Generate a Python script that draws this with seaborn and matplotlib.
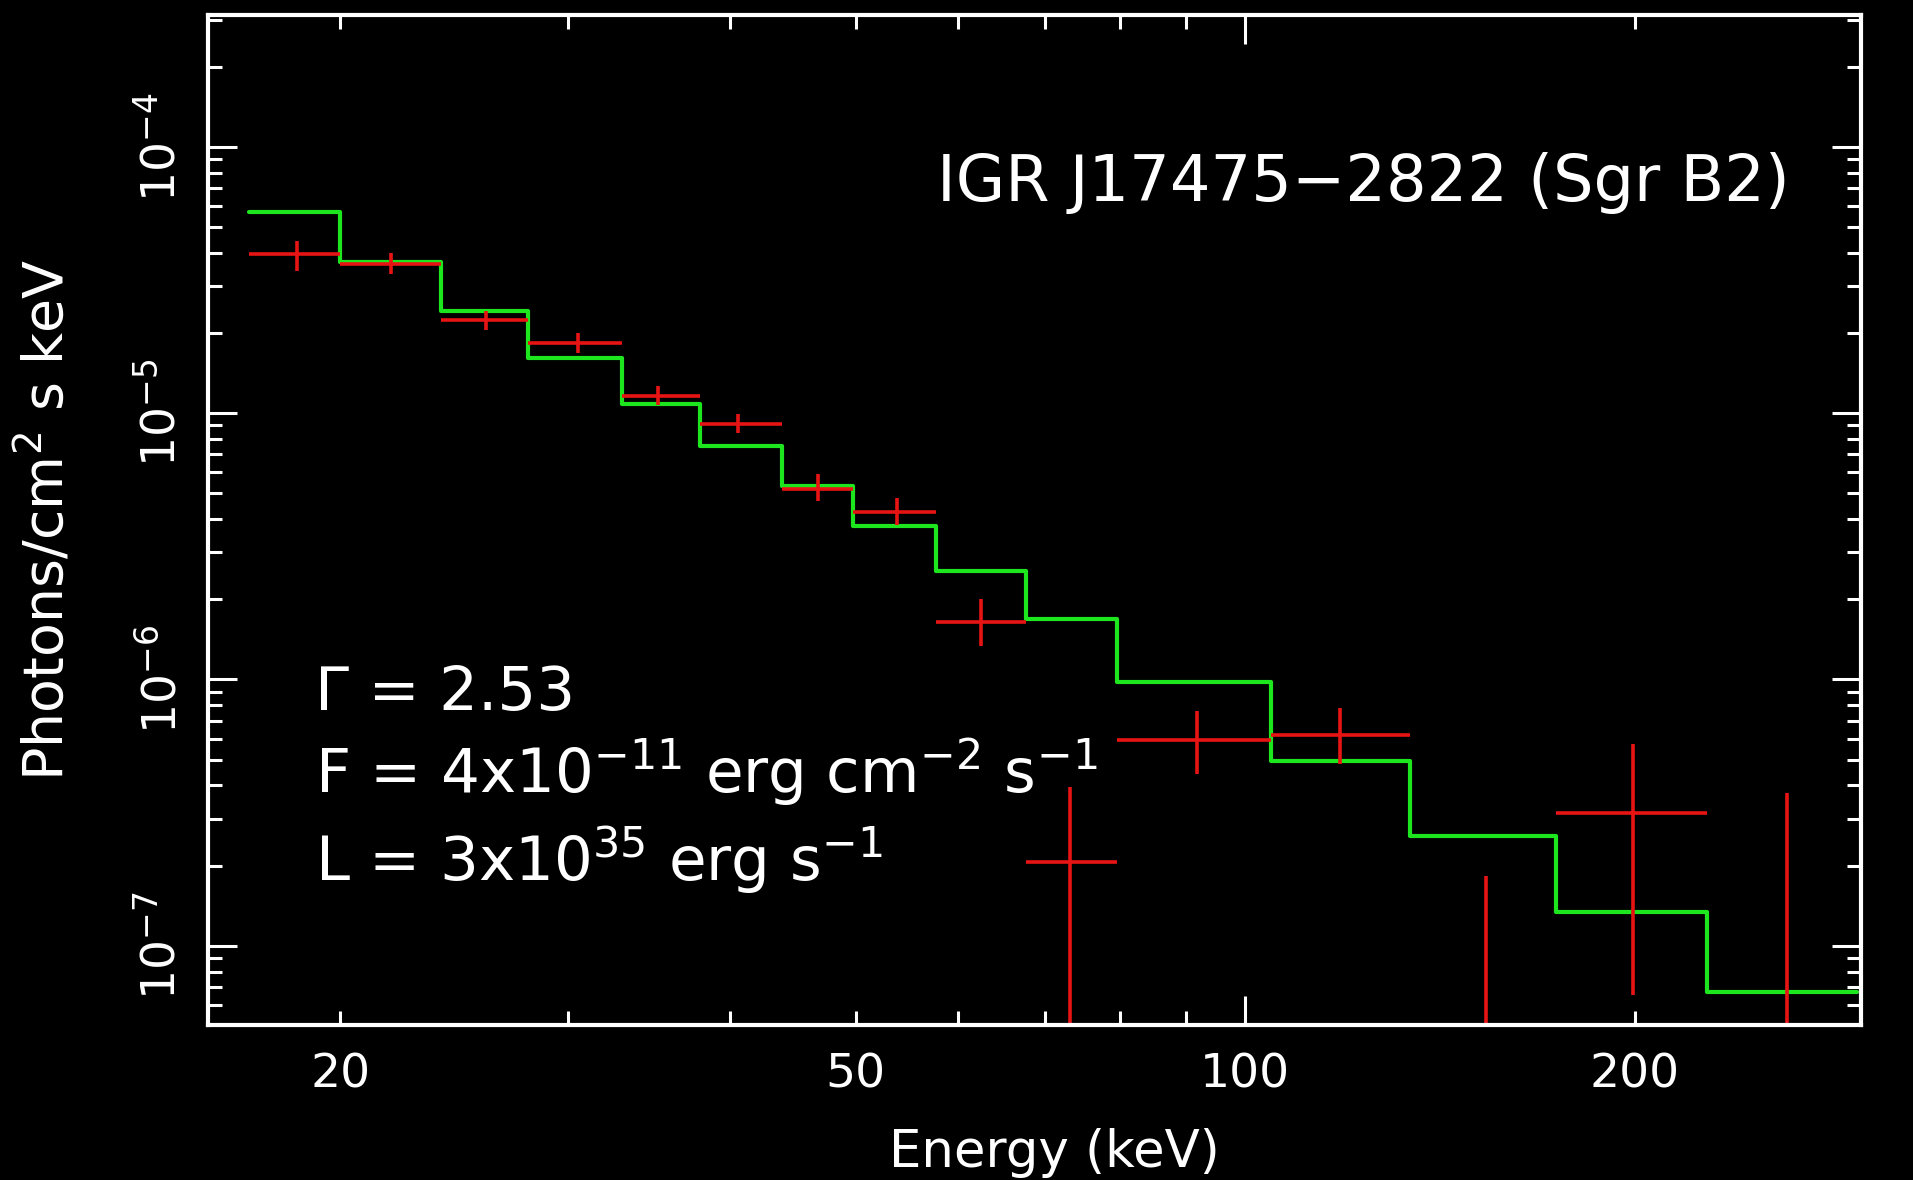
import numpy as np
import matplotlib
matplotlib.use('Agg')
import matplotlib.pyplot as plt
import seaborn as sns
from matplotlib.ticker import LogLocator, FuncFormatter

# Model (step) bin edges in keV and model flux per bin
model_edges = [17.0, 20.0, 23.9, 27.9, 33.0, 37.9, 43.9, 49.8, 57.7, 67.7,
               79.6, 104.6, 134.0, 173.7, 227.3, 297.0]
model_flux = [5.72e-5, 3.71e-5, 2.41e-5, 1.61e-5, 1.08e-5, 7.54e-6, 5.33e-6,
              3.76e-6, 2.55e-6, 1.69e-6, 9.75e-7, 4.96e-7, 2.58e-7, 1.34e-7, 6.7e-8]

# Measured spectrum: bin centre, flux and error range (same bins as the model)
data_energy = [18.5, 21.9, 25.9, 30.5, 35.2, 40.6, 46.8, 53.8, 62.5, 73.2,
               91.7, 118.4, 153.4, 199.5, 262.3]
data_flux = [3.95e-5, 3.63e-5, 2.24e-5, 1.83e-5, 1.163e-5, 9.12e-6, 5.21e-6,
             4.27e-6, 1.65e-6, 2.07e-7, 5.94e-7, 6.19e-7, 2.0e-8, 3.15e-7, 2.0e-8]
data_upper = [4.43e-5, 3.99e-5, 2.43e-5, 2.0e-5, 1.26e-5, 9.9e-6, 5.9e-6,
              4.8e-6, 2.0e-6, 3.94e-7, 7.6e-7, 7.8e-7, 1.82e-7, 5.7e-7, 3.73e-7]
data_lower = [3.41e-5, 3.33e-5, 2.05e-5, 1.68e-5, 1.07e-5, 8.4e-6, 4.7e-6,
              3.8e-6, 1.33e-6, 1.0e-8, 4.4e-7, 4.8e-7, 1.0e-8, 6.55e-8, 1.0e-8]

x_labels = [20, 50, 100, 200]
source_name = 'IGR J17475\u22122822 (Sgr B2)'
fit_lines = ['\u0393 = 2.53',
             r'F = 4x10$^{-11}$ erg cm$^{-2}$ s$^{-1}$',
             r'L = 3x10$^{35}$ erg s$^{-1}$']

sns.set_style('ticks', rc={'axes.facecolor': 'black', 'figure.facecolor': 'black',
                           'axes.edgecolor': 'white', 'text.color': 'white',
                           'xtick.color': 'white', 'ytick.color': 'white',
                           'axes.labelcolor': 'white'})
plt.rcParams['font.family'] = ['DejaVu Sans']
plt.rcParams['mathtext.default'] = 'regular'

fig = plt.figure(figsize=(19.13, 11.8), dpi=100)
ax = fig.add_axes([0.1087, 0.1314, 0.8641, 0.8559])

# model step curve
step_x = model_edges
step_y = model_flux + [model_flux[-1]]
sns.lineplot(x=step_x, y=step_y, drawstyle='steps-post', color='#1ee61e',
             linewidth=3.0, ax=ax, estimator=None, sort=False)

# data crosses
e = np.array(data_energy)
f = np.array(data_flux)
edges = np.array(model_edges)
xerr = [e - edges[:-1], edges[1:] - e]
yerr = [f - np.array(data_lower), np.array(data_upper) - f]
ax.errorbar(e, f, xerr=xerr, yerr=yerr, fmt='none', ecolor='#e81414',
            elinewidth=2.6, capsize=0)

ax.set_xscale('log')
ax.set_yscale('log')
ax.set_xlim(15.8, 299)
ax.set_ylim(5.04e-8, 3.13e-4)

ax.xaxis.set_major_locator(LogLocator(base=10, numticks=10))
ax.xaxis.set_minor_locator(LogLocator(base=10, subs=np.arange(2, 10), numticks=10))
xfmt = FuncFormatter(lambda v, p: f'{v:g}' if int(round(v)) in x_labels else '')
ax.xaxis.set_major_formatter(xfmt)
ax.xaxis.set_minor_formatter(xfmt)

ax.yaxis.set_major_locator(LogLocator(base=10, numticks=10))
ax.yaxis.set_minor_locator(LogLocator(base=10, subs=np.arange(2, 10), numticks=10))
ax.yaxis.set_major_formatter(FuncFormatter(lambda v, p: r'$10^{%d}$' % round(np.log10(v))))

ax.tick_params(which='both', direction='in', top=True, right=True,
               color='white', width=2.2, labelsize=34)
ax.tick_params(which='major', length=21)
ax.tick_params(which='minor', length=10)
ax.tick_params(axis='x', which='both', pad=20)
ax.tick_params(axis='y', which='both', pad=16, labelrotation=90)
plt.setp(ax.get_yticklabels(), va='center')

for s in ax.spines.values():
    s.set_linewidth(3)
    s.set_color('white')

ax.set_xlabel('Energy (keV)', fontsize=37)
ax.set_ylabel(r'Photons/cm$^{2}$ s keV', fontsize=40)
ax.xaxis.set_label_coords(0.512, -0.102)
ax.yaxis.set_label_coords(-0.08, 0.5)

ax.text(0.441, 0.834, source_name, transform=ax.transAxes, fontsize=46,
        ha='left', va='center')
for txt, yy in zip(fit_lines, [0.312, 0.2297, 0.1426]):
    ax.text(0.0647, yy, txt, transform=ax.transAxes, fontsize=44,
            ha='left', va='baseline')

fig.savefig('out.png', dpi=100, facecolor='black')
